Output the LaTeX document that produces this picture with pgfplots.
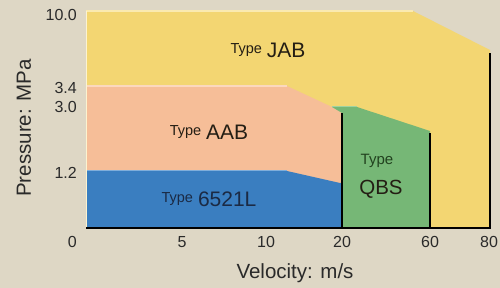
\documentclass[border=0pt]{standalone}
\usepackage{pgfplots}
\pgfplotsset{compat=1.18}
\usepackage{fontspec}
\setmainfont{Liberation Sans}
\definecolor{bg}{HTML}{DED7C5}
\definecolor{yel}{HTML}{F3D672}
\definecolor{yelhi}{HTML}{FAEAB0}
\definecolor{sal}{HTML}{F6BE98}
\definecolor{salhi}{HTML}{FBD8BE}
\definecolor{blu}{HTML}{3A7EC0}
\definecolor{bluhi}{HTML}{7FAEDB}
\definecolor{grn}{HTML}{76B776}
\definecolor{grnhi}{HTML}{9FD3A0}
\definecolor{tickc}{HTML}{2A2A2A}
\definecolor{labc}{HTML}{241E14}
\definecolor{navy}{HTML}{1B2A44}
\definecolor{dgrn}{HTML}{22421F}
\newcommand{\typelab}[2][labc]{{\color{#1}\fontsize{14.5}{15}\selectfont\raisebox{4pt}{Type}}\hspace{5pt}{\fontsize{21}{22}\selectfont #2}}
\begin{document}
\begin{tikzpicture}
\path[use as bounding box] (0,0) rectangle (500pt,288pt);
\fill[bg] (0,0) rectangle (500pt,288pt);
\begin{axis}[at={(86pt,60pt)}, anchor=origin, x=1pt, y=1pt,
  xmin=0, xmax=405, ymin=0, ymax=217, clip=false,
  axis line style={draw=none}, major tick length=0pt,
  xtick={96,180,256,344,403}, xticklabels={5,10,20,60,80},
  ytick={55,121,140,213}, yticklabels={1.2,3.0,3.4,10.0},
  tick label style={font=\fontsize{16}{16}\selectfont, text=tickc},
  xticklabel style={anchor=center, yshift=-14pt},
  yticklabel style={anchor=east, inner sep=0pt, xshift=-9pt},
  /pgf/number format/assume math mode=true, no markers]
% JAB
\addplot[fill=yel, draw=none] coordinates {(0,0) (0,217) (327,217) (404,178) (404,0)} -- cycle;
\addplot[yelhi, line width=1.2pt] coordinates {(0,217) (327,217)};
% AAB
\addplot[fill=sal, draw=none] coordinates {(0,0) (0,142) (201,142) (246,121) (256,121) (256,0)} -- cycle;
\addplot[salhi, line width=1.2pt] coordinates {(0,142) (201,142)};
% QBS
\addplot[fill=grn, draw=none] coordinates {(256,0) (256,115) (246,121) (271,121) (344,97) (344,0)} -- cycle;
\addplot[grnhi, line width=1pt] coordinates {(246,121) (271,121)};
% 6521L
\addplot[fill=blu, draw=none] coordinates {(0,0) (0,57) (201,57) (254,45) (256,45) (256,0)} -- cycle;
\addplot[bluhi, line width=1pt] coordinates {(0,57) (201,57)};
% left highlight
\addplot[yelhi!60!white, line width=1pt] coordinates {(0.5,1) (0.5,217)};
% black edges
\addplot[black, line width=2pt] coordinates {(256,0) (256,115)};
\addplot[black, line width=2pt] coordinates {(344,0) (344,95)};
\addplot[black, line width=2pt] coordinates {(404,0) (404,175)};
\addplot[black, line width=2.5pt] coordinates {(0,0) (405,0)};
% region labels
\node[anchor=base, text=labc] at (axis cs:182,170) {\typelab{JAB}};
\node[anchor=base, text=labc] at (axis cs:123,88) {\typelab{AAB}};
\node[anchor=base, text=navy] at (axis cs:123,21) {\typelab[navy]{6521L}};
\node[anchor=base, text=dgrn, font=\fontsize{15}{15}\selectfont] at (axis cs:291,63) {Type};
\node[anchor=base, text=labc, font=\fontsize{20.5}{21}\selectfont] at (axis cs:295,33) {QBS};
% origin label and axis titles
\node[anchor=east, inner sep=0pt, text=tickc, font=\fontsize{16}{16}\selectfont] at (axis cs:-9,-14) {0};
\node[rotate=90, text=tickc, font=\fontsize{20.5}{21}\selectfont] at (axis cs:-62,100) {Pressure: MPa};
\node[text=tickc, font=\fontsize{20.5}{21}\selectfont] at (axis cs:209,-45) {Velocity: m/s};
\end{axis}
\end{tikzpicture}
\end{document}
